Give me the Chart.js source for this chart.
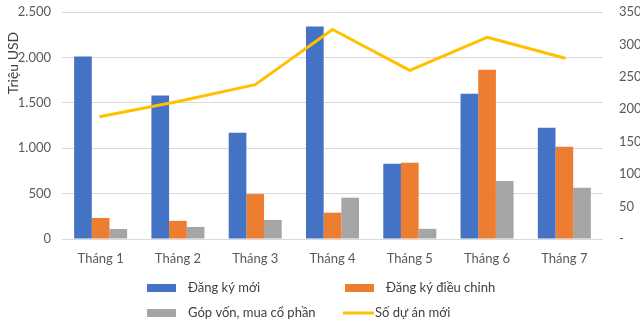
<!DOCTYPE html>
<html>
<head>
<meta charset="utf-8">
<script src="https://cdn.jsdelivr.net/npm/chart.js@4.4.1/dist/chart.umd.min.js"></script>
<style>
  html, body { margin: 0; padding: 0; background: #fff; }
  #khung { width: 640px; height: 324px; }
</style>
</head>
<body>
<div id="khung"><canvas id="myChart" width="640" height="324"></canvas></div>
<script>
// số liệu theo tháng
const thang = ['Tháng 1', 'Tháng 2', 'Tháng 3', 'Tháng 4', 'Tháng 5', 'Tháng 6', 'Tháng 7'];
const dangKyMoi = [2010, 1580, 1170, 2340, 830, 1600, 1225];
const dangKyDieuChinh = [232, 200, 495, 290, 840, 1865, 1015];
const gopVon = [110, 133, 210, 455, 112, 640, 565];
const soDuAnMoi = [189, 212, 238, 323, 260, 311, 279];

// nhãn trục
const nhanTrai = ['0', '500', '1.000', '1.500', '2.000', '2.500'];
const nhanPhai = ['-', '50', '100', '150', '200', '250', '300', '350'];

Chart.defaults.font.family = 'Lato, "Open Sans", sans-serif';
Chart.defaults.font.size = 13;
Chart.defaults.color = '#595959';

const ctx = document.getElementById('myChart').getContext('2d');

// tiêu đề trục trái, đặt gần phía trên
const tieuDeTruc = {
  id: 'tieuDeTruc',
  afterDraw(chart) {
    const c = chart.ctx;
    c.save();
    c.translate(13, 63);
    c.rotate(-Math.PI / 2);
    c.font = '14px Lato, "Open Sans", sans-serif';
    c.fillStyle = '#404040';
    c.textAlign = 'center';
    c.textBaseline = 'middle';
    c.fillText('Triệu USD', 0, 0);
    c.restore();
  }
};

// chú giải 2 cột x 2 hàng
const chuGiai = {
  id: 'chuGiai',
  afterDraw(chart) {
    const c = chart.ctx;
    const viTri = [[147, 288, 188], [345, 288, 386], [147, 313, 188], [343, 313, 375]];
    c.save();
    c.font = '13px Lato, "Open Sans", sans-serif';
    c.textBaseline = 'middle';
    c.textAlign = 'left';
    chart.data.datasets.forEach((ds, i) => {
      const [x, y, tx] = viTri[i];
      if (ds.type === 'line') {
        c.strokeStyle = ds.borderColor;
        c.lineWidth = 3;
        c.beginPath();
        c.moveTo(x, y);
        c.lineTo(x + 31, y);
        c.stroke();
      } else {
        c.fillStyle = ds.backgroundColor;
        c.fillRect(x, y - 4, 29, 8);
      }
      c.fillStyle = '#404040';
      c.fillText(ds.label, tx, y);
    });
    c.restore();
  }
};

// cố định bề rộng trục, bỏ phần đệm trên/dưới do padding nhãn sinh ra
const coDinhTruc = (rong) => (s) => {
  s.width = rong;
  s.paddingTop = 0;
  s.paddingBottom = 0;
};

const myChart = new Chart(ctx, {
  data: {
    labels: thang,
    datasets: [
      {
        type: 'bar',
        label: 'Đăng ký mới',
        data: dangKyMoi,
        backgroundColor: '#4472C4',
        yAxisID: 'y',
        order: 1
      },
      {
        type: 'bar',
        label: 'Đăng ký điều chỉnh',
        data: dangKyDieuChinh,
        backgroundColor: '#ED7D31',
        yAxisID: 'y',
        order: 1
      },
      {
        type: 'bar',
        label: 'Góp vốn, mua cổ phần',
        data: gopVon,
        backgroundColor: '#A5A5A5',
        yAxisID: 'y',
        order: 1
      },
      {
        type: 'line',
        label: 'Số dự án mới',
        data: soDuAnMoi,
        borderColor: '#FFC000',
        backgroundColor: '#FFC000',
        borderWidth: 3,
        pointRadius: 0,
        tension: 0,
        borderJoinStyle: 'round',
        borderCapStyle: 'round',
        yAxisID: 'y1',
        order: 0
      }
    ]
  },
  options: {
    responsive: false,
    animation: false,
    datasets: {
      bar: { categoryPercentage: 0.686, barPercentage: 1 }
    },
    layout: { padding: { top: 12, bottom: 45, left: 0, right: 0 } },
    plugins: {
      legend: { display: false },
      tooltip: { enabled: false }
    },
    scales: {
      x: {
        grid: { display: false },
        border: { display: false },
        ticks: { padding: 4, color: '#595959' },
        afterFit: (s) => { s.height = 40; }
      },
      y: {
        position: 'left',
        min: 0,
        max: 2500,
        grid: { color: '#d9d9d9', drawTicks: false },
        border: { display: false },
        ticks: {
          stepSize: 500,
          padding: 11,
          callback: (v, i) => nhanTrai[i]
        },
        afterFit: coDinhTruc(62)
      },
      y1: {
        position: 'right',
        min: 0,
        max: 350,
        grid: { display: false, drawTicks: false },
        border: { display: false },
        ticks: {
          stepSize: 50,
          padding: 16,
          callback: (v, i) => nhanPhai[i]
        },
        afterFit: coDinhTruc(37)
      }
    }
  },
  plugins: [tieuDeTruc, chuGiai]
});
</script>
</body>
</html>
